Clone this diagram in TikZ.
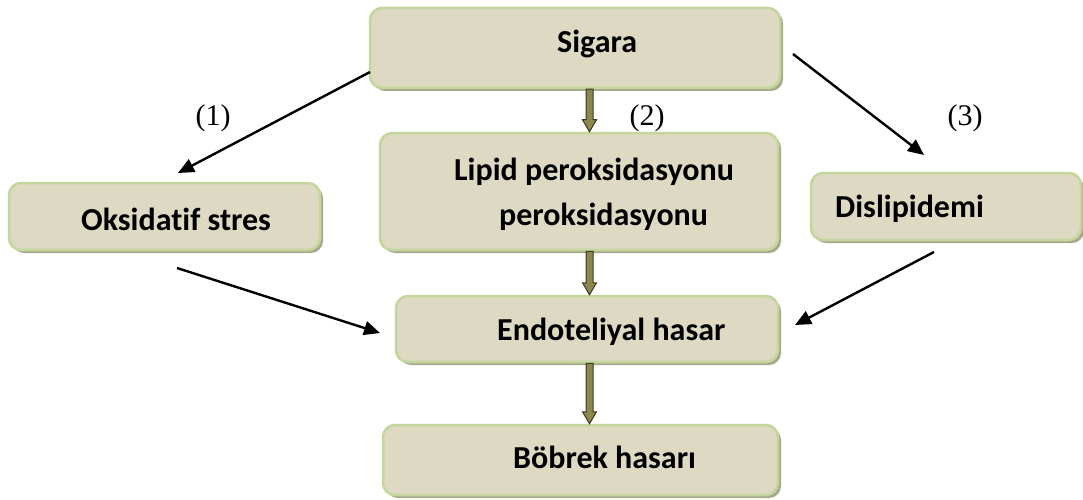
\documentclass[tikz,border=0pt]{standalone}
\usepackage{fontspec}
\setmainfont{Carlito}[Ligatures=NoCommon]
\newfontfamily\tnr{Liberation Serif}
\usetikzlibrary{arrows.meta,shadows,calc}
\definecolor{boxfill}{HTML}{DDD9C3}
\definecolor{boxline}{HTML}{C3D69B}
\definecolor{shadowc}{HTML}{A7A88E}
\definecolor{olv}{HTML}{8C864F}
\definecolor{olvdark}{HTML}{3A3820}
\begin{document}
\begin{tikzpicture}[x=1pt,y=-1pt,
 box/.style={draw=boxline, line width=2.5pt, fill=boxfill, rounded corners=12pt, inner sep=0pt,
   drop shadow={shadow xshift=3pt,shadow yshift=-3pt,fill=shadowc,opacity=1}},
 lbl/.style={font=\fontsize{32}{38}\selectfont\bfseries, anchor=base west, inner sep=0pt},
 num/.style={font=\tnr\fontsize{30}{34}\selectfont, inner sep=0pt},
 arr/.style={line width=2.4pt, -{Triangle[length=16pt,width=14pt]}},
 blk/.style={fill=olv, draw=olvdark, line width=1pt,
   to path={let \p1=(\tikztostart), \p2=(\tikztotarget) in
     (\x1-3.5pt,\y1) -- (\x1-3.5pt,\y2+12pt) -- (\x1-7pt,\y2+12pt) -- (\x1,\y2)
     -- (\x1+7pt,\y2+12pt) -- (\x1+3.5pt,\y2+12pt) -- (\x1+3.5pt,\y1) -- cycle}}
]
\useasboundingbox (0,0) rectangle (1083,500);

% boxes
\node[box, minimum width=410pt, minimum height=80pt]  (sig) at (575,48) {};
\node[box, minimum width=398pt, minimum height=117pt] (lip) at (579,191.5) {};
\node[box, minimum width=311pt, minimum height=67pt]  (oks) at (164.5,216.5) {};
\node[box, minimum width=270pt, minimum height=67pt]  (dis) at (946,206.5) {};
\node[box, minimum width=382pt, minimum height=66pt]  (end) at (587,329) {};
\node[box, minimum width=395pt, minimum height=70pt]  (bob) at (580.5,460) {};

% texts
\node[lbl] (tsig)  at (557,53)  {Sigara};
\node[lbl] (tlip1) at (454,180) {Lipid peroksidasyonu};
\node[lbl] (tlip2) at (499,225) {peroksidasyonu};
\node[lbl] (toks)  at (81,230)  {Oksidatif stres};
\node[lbl] (tdis)  at (835,217) {Dislipidemi};
\node[lbl] (tend)  at (497,340) {Endoteliyal hasar};
\node[lbl] (tbob)  at (513,468) {Böbrek hasarı};

% path numbers
\node[num] (n1) at (213,118) {(1)};
\node[num] (n2) at (647,118) {(2)};
\node[num] (n3) at (965,118) {(3)};

% block arrows (central column)
\coordinate (cx) at (589.5,0);
\draw[blk] (sig.south -| cx) to (lip.north -| cx);
\draw[blk] (lip.south -| cx) to (end.north -| cx);
\draw[blk] (end.south -| cx) to (bob.north -| cx);

% thin arrows
\coordinate (a1s) at (370,72);
\coordinate (a1e) at (178,173);
\coordinate (a3s) at (793,54);
\coordinate (a3e) at (924,155);
\coordinate (a4s) at (177,268);
\coordinate (a4e) at (380,333);
\coordinate (a5s) at (934,252);
\coordinate (a5e) at (795,325);
\draw[arr] (a1s) -- (a1e);
\draw[arr] (a3s) -- (a3e);
\draw[arr] (a4s) -- (a4e);
\draw[arr] (a5s) -- (a5e);
\end{tikzpicture}
\end{document}
